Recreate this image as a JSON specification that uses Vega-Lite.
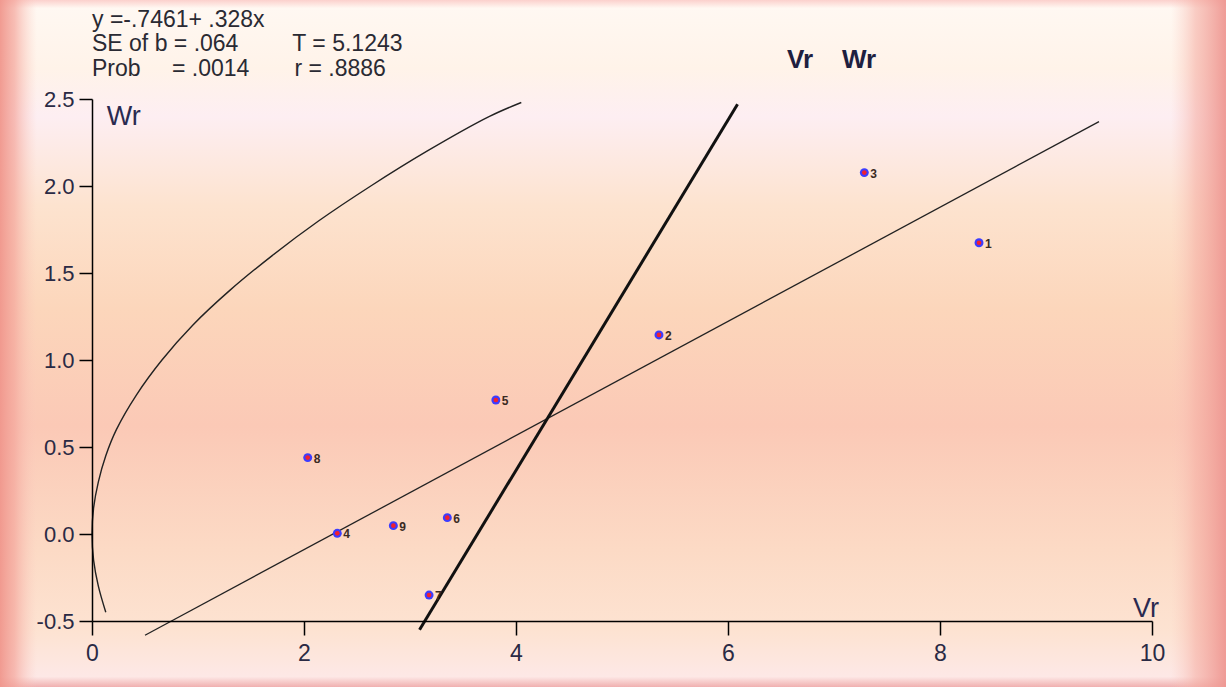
{
  "$schema": "https://vega.github.io/schema/vega-lite/v6.json",
  "width": 1060,
  "height": 522,
  "autosize": {"type": "none"},
  "padding": {"left": 92, "top": 99, "right": 74, "bottom": 66},
  "background": "#fde4d2",
  "config": {"view": {"stroke": null}, "font": "Liberation Sans"},
  "datasets": {
    "one": [{"k": 1}],
    "pts": [
      {"Vr": 8.368, "Wr": 1.674, "id": "1"},
      {"Vr": 5.349, "Wr": 1.144, "id": "2"},
      {"Vr": 7.286, "Wr": 2.077, "id": "3"},
      {"Vr": 2.314, "Wr": 0.004, "id": "4"},
      {"Vr": 3.81, "Wr": 0.77, "id": "5"},
      {"Vr": 3.352, "Wr": 0.094, "id": "6"},
      {"Vr": 3.18, "Wr": -0.351, "id": "7"},
      {"Vr": 2.035, "Wr": 0.439, "id": "8"},
      {"Vr": 2.843, "Wr": 0.048, "id": "9"}
    ],
    "parab": [
      {"Vr": 0.13, "Wr": -0.45},
      {"Vr": 0.06, "Wr": -0.3},
      {"Vr": 0.015, "Wr": -0.15},
      {"Vr": 0.0, "Wr": 0.0},
      {"Vr": 0.015, "Wr": 0.15},
      {"Vr": 0.06, "Wr": 0.3},
      {"Vr": 0.13, "Wr": 0.45},
      {"Vr": 0.23, "Wr": 0.6},
      {"Vr": 0.42, "Wr": 0.8},
      {"Vr": 0.66, "Wr": 1.0},
      {"Vr": 0.95, "Wr": 1.2},
      {"Vr": 1.3, "Wr": 1.4},
      {"Vr": 1.7, "Wr": 1.6},
      {"Vr": 2.14, "Wr": 1.8},
      {"Vr": 2.63, "Wr": 2.0},
      {"Vr": 3.16, "Wr": 2.2},
      {"Vr": 3.75, "Wr": 2.4},
      {"Vr": 4.05, "Wr": 2.48}
    ],
    "reg": [
      {"Vr": 0.5, "Wr": -0.582},
      {"Vr": 9.5, "Wr": 2.37}
    ],
    "unit": [
      {"Vr": 3.09, "Wr": -0.55},
      {"Vr": 6.09, "Wr": 2.47}
    ]
  },
  "layer": [
    {
      "data": {"name": "one"},
      "mark": {"type": "rect", "fill": {"gradient": "linear", "x1": 0, "y1": 0, "x2": 0, "y2": 1, "stops": [
        {"offset": 0, "color": "#fbd0cc"},
        {"offset": 0.012, "color": "#fff8f2"},
        {"offset": 0.1, "color": "#fff3e9"},
        {"offset": 0.17, "color": "#fdeef2"},
        {"offset": 0.3, "color": "#fde3cf"},
        {"offset": 0.45, "color": "#fcd6bb"},
        {"offset": 0.62, "color": "#fbc9b6"},
        {"offset": 0.8, "color": "#fcdac5"},
        {"offset": 0.92, "color": "#fde3d2"},
        {"offset": 0.985, "color": "#fde8e6"},
        {"offset": 1, "color": "#f0b0b0"}
      ]}},
      "encoding": {
        "x": {"datum": -0.868, "type": "quantitative", "scale": {"domain": [0, 10], "nice": false, "zero": false},
          "axis": {"values": [0, 2, 4, 6, 8, 10], "format": "d", "title": null, "grid": false, "zindex": 1, "labelFlush": false,
            "domainColor": "#000000", "domainWidth": 1.5, "tickColor": "#000000", "tickWidth": 1.5, "tickSize": 14,
            "labelFontSize": 23, "labelColor": "#2a2a44", "labelPadding": 7}},
        "x2": {"datum": 10.698},
        "y": {"datum": 3.069, "type": "quantitative", "scale": {"domain": [-0.5, 2.5], "nice": false, "zero": false},
          "axis": {"values": [-0.5, 0, 0.5, 1, 1.5, 2, 2.5], "format": ".1f", "labelExpr": "replace(datum.label, '\u2212', '-')", "title": null, "grid": false, "zindex": 1, "labelFlush": false,
            "domainColor": "#000000", "domainWidth": 1.5, "tickColor": "#000000", "tickWidth": 1.5, "tickSize": 13,
            "labelFontSize": 22, "labelColor": "#2a2a44", "labelPadding": 5}},
        "y2": {"datum": -0.879}
      }
    },
    {
      "data": {"name": "one"},
      "mark": {"type": "rect", "fill": {"gradient": "linear", "x1": 0, "y1": 0, "x2": 1, "y2": 0, "stops": [
        {"offset": 0, "color": "rgba(240,150,140,0.95)"},
        {"offset": 0.012, "color": "rgba(244,165,155,0.7)"},
        {"offset": 0.03, "color": "rgba(250,200,190,0)"},
        {"offset": 0.955, "color": "rgba(250,200,190,0)"},
        {"offset": 0.975, "color": "rgba(245,175,165,0.6)"},
        {"offset": 1, "color": "rgba(238,150,145,0.95)"}
      ]}},
      "encoding": {
        "x": {"datum": -0.868, "type": "quantitative"},
        "x2": {"datum": 10.698},
        "y": {"datum": 3.069, "type": "quantitative"},
        "y2": {"datum": -0.879}
      }
    },
    {
      "data": {"name": "parab"},
      "mark": {"type": "line", "color": "#222222", "strokeWidth": 1.4, "interpolate": "catmull-rom"},
      "encoding": {
        "x": {"field": "Vr", "type": "quantitative"},
        "y": {"field": "Wr", "type": "quantitative"},
        "order": {"field": "Wr", "type": "quantitative"}
      }
    },
    {
      "data": {"name": "reg"},
      "mark": {"type": "line", "color": "#222222", "strokeWidth": 1.3},
      "encoding": {
        "x": {"field": "Vr", "type": "quantitative"},
        "y": {"field": "Wr", "type": "quantitative"}
      }
    },
    {
      "data": {"name": "unit"},
      "mark": {"type": "line", "color": "#111111", "strokeWidth": 3},
      "encoding": {
        "x": {"field": "Vr", "type": "quantitative"},
        "y": {"field": "Wr", "type": "quantitative"}
      }
    },
    {
      "data": {"name": "pts"},
      "mark": {"type": "point", "shape": "circle", "filled": true, "color": "#3c3cff", "size": 80, "opacity": 1},
      "encoding": {
        "x": {"field": "Vr", "type": "quantitative"},
        "y": {"field": "Wr", "type": "quantitative"}
      }
    },
    {
      "data": {"name": "pts"},
      "mark": {"type": "point", "shape": "circle", "filled": true, "color": "#f02030", "size": 22, "opacity": 1},
      "encoding": {
        "x": {"field": "Vr", "type": "quantitative"},
        "y": {"field": "Wr", "type": "quantitative"}
      }
    },
    {
      "data": {"name": "pts"},
      "mark": {"type": "text", "align": "left", "baseline": "middle", "dx": 6, "dy": 1, "fontSize": 12, "fontWeight": "bold", "color": "#3a2a22"},
      "encoding": {
        "x": {"field": "Vr", "type": "quantitative"},
        "y": {"field": "Wr", "type": "quantitative"},
        "text": {"field": "id"}
      }
    },
    {
      "data": {"name": "one"},
      "mark": {"type": "text", "align": "left", "baseline": "alphabetic", "fontSize": 23, "lineHeight": 24.5, "color": "#2a2a33",
        "text": ["y =-.7461+ .328x", "SE of b = .064", "Prob"]},
      "encoding": {"x": {"datum": 0, "type": "quantitative"}, "y": {"datum": 2.914, "type": "quantitative"}}
    },
    {
      "data": {"name": "one"},
      "mark": {"type": "text", "align": "left", "baseline": "alphabetic", "fontSize": 23, "color": "#2a2a33", "text": "T = 5.1243"},
      "encoding": {"x": {"datum": 1.89, "type": "quantitative"}, "y": {"datum": 2.773, "type": "quantitative"}}
    },
    {
      "data": {"name": "one"},
      "mark": {"type": "text", "align": "left", "baseline": "alphabetic", "fontSize": 23, "color": "#2a2a33", "text": "r = .8886"},
      "encoding": {"x": {"datum": 1.91, "type": "quantitative"}, "y": {"datum": 2.632, "type": "quantitative"}}
    },
    {
      "data": {"name": "one"},
      "mark": {"type": "text", "align": "left", "baseline": "alphabetic", "fontSize": 23, "color": "#2a2a33", "text": "= .0014"},
      "encoding": {"x": {"datum": 0.755, "type": "quantitative"}, "y": {"datum": 2.632, "type": "quantitative"}}
    },
    {
      "data": {"name": "one"},
      "mark": {"type": "text", "align": "left", "baseline": "alphabetic", "fontSize": 26, "fontWeight": "bold", "color": "#1e2040", "text": "Vr"},
      "encoding": {"x": {"datum": 6.557, "type": "quantitative"}, "y": {"datum": 2.678, "type": "quantitative"}}
    },
    {
      "data": {"name": "one"},
      "mark": {"type": "text", "align": "left", "baseline": "alphabetic", "fontSize": 26, "fontWeight": "bold", "color": "#1e2040", "text": "Wr"},
      "encoding": {"x": {"datum": 7.075, "type": "quantitative"}, "y": {"datum": 2.678, "type": "quantitative"}}
    },
    {
      "data": {"name": "one"},
      "mark": {"type": "text", "align": "left", "baseline": "alphabetic", "fontSize": 27, "color": "#2a2a50", "text": "Wr"},
      "encoding": {"x": {"datum": 0.14, "type": "quantitative"}, "y": {"datum": 2.352, "type": "quantitative"}}
    },
    {
      "data": {"name": "one"},
      "mark": {"type": "text", "align": "left", "baseline": "alphabetic", "fontSize": 27, "color": "#2a2a50", "text": "Vr"},
      "encoding": {"x": {"datum": 9.82, "type": "quantitative"}, "y": {"datum": -0.477, "type": "quantitative"}}
    }
  ]
}
